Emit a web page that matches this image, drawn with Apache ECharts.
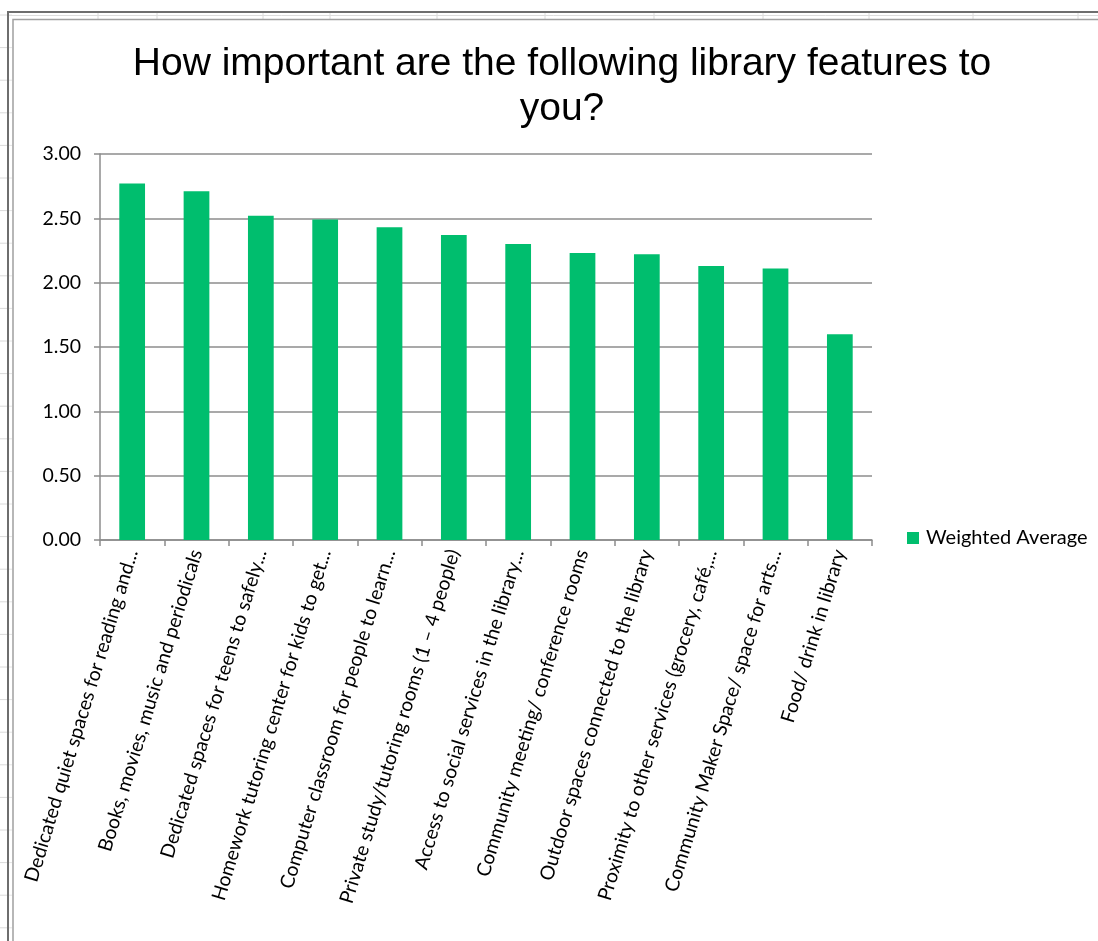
<!DOCTYPE html>
<html>
<head>
<meta charset="utf-8">
<script src="https://cdn.jsdelivr.net/npm/echarts@6/dist/echarts.min.js"></script>
<style>
  html, body { margin: 0; padding: 0; background: #ffffff; }
  #chart { width: 1098px; height: 941px; }
</style>
</head>
<body>
<div id="chart"></div>
<script>
// Survey results: weighted average importance of each library feature
const titleText = 'How important are the following library features to\nyou?';
const seriesName = 'Weighted Average';
const categories = [
  'Dedicated quiet spaces for reading and...',
  'Books, movies, music and periodicals',
  'Dedicated spaces for teens to safely...',
  'Homework tutoring center for kids to get...',
  'Computer classroom for people to learn...',
  'Private study/tutoring rooms (1 \u2013 4 people)',
  'Access to social services in the library...',
  'Community meeting/ conference rooms',
  'Outdoor spaces connected to the library',
  'Proximity to other services (grocery, caf\u00e9,...',
  'Community Maker Space/ space for arts...',
  'Food/ drink in library'
];
const weightedAverage = [2.77, 2.71, 2.52, 2.49, 2.43, 2.37, 2.30, 2.23, 2.22, 2.13, 2.11, 1.60];
const yTicks = { min: 0, max: 3, interval: 0.5 };

// Worksheet backdrop around the chart object: cell grid lines and frame
const rowLines = [];
for (let k = 0; k < 29; k++) rowLines.push(15 + 32.6 * k);
const colLines = [98, 157, 263, 330, 437, 545, 654, 763, 869, 973, 1078];

const backdrop = [];
rowLines.forEach(y => {
  backdrop.push({ type: 'line', shape: { x1: 0, y1: y, x2: 7, y2: y }, style: { stroke: '#dadada', lineWidth: 1 }, silent: true });
  backdrop.push({ type: 'line', shape: { x1: 9, y1: y, x2: 12, y2: y }, style: { stroke: '#e4e4e4', lineWidth: 1 }, silent: true });
});
colLines.forEach(x => {
  backdrop.push({ type: 'line', shape: { x1: x, y1: 13, x2: x, y2: 19 }, style: { stroke: '#dadada', lineWidth: 1 }, silent: true });
});
backdrop.push({ type: 'line', shape: { x1: 9, y1: 15.5, x2: 1098, y2: 15.5 }, style: { stroke: '#dcdcdc', lineWidth: 1 }, silent: true });
// outer dark frame
backdrop.push({ type: 'polyline', shape: { points: [[8, 941], [8, 12], [1098, 12]] }, style: { stroke: '#6e6e6e', lineWidth: 2, fill: null }, silent: true });
// chart area border
backdrop.push({ type: 'polyline', shape: { points: [[13, 941], [13, 19.5], [1098, 19.5]] }, style: { stroke: '#a0a0a0', lineWidth: 1.5, fill: null }, silent: true });

const labelFont = 'Lato, "Open Sans", sans-serif';

const chart = echarts.init(document.getElementById('chart'), null, { renderer: 'canvas' });
chart.setOption({
  backgroundColor: '#ffffff',
  animation: false,
  title: {
    text: titleText,
    left: 557,
    top: 37,
    textAlign: 'center',
    textStyle: {
      fontFamily: '"Liberation Sans", Arial, sans-serif',
      fontSize: 39,
      fontWeight: 'normal',
      color: '#000000',
      lineHeight: 45
    }
  },
  legend: {
    data: [seriesName],
    left: 902,
    top: 523,
    orient: 'vertical',
    icon: 'rect',
    itemWidth: 12,
    itemHeight: 12,
    itemGap: 6,
    textStyle: {
      fontFamily: labelFont,
      fontSize: 20,
      color: '#000000',
      padding: [0, 0, 0, 2]
    }
  },
  grid: {
    left: 100,
    top: 154,
    right: 226,
    bottom: 401,
    containLabel: false
  },
  xAxis: {
    type: 'category',
    data: categories,
    boundaryGap: true,
    axisLine: { show: true, lineStyle: { color: '#8c8c8c', width: 1.5 } },
    axisTick: { show: true, alignWithLabel: false, length: 6, lineStyle: { color: '#8c8c8c', width: 1.5 } },
    axisLabel: {
      interval: 0,
      rotate: 73,
      margin: 10,
      fontFamily: labelFont,
      fontSize: 19.5,
      color: '#000000'
    },
    splitLine: { show: false }
  },
  yAxis: {
    type: 'value',
    min: yTicks.min,
    max: yTicks.max,
    interval: yTicks.interval,
    axisLine: { show: true, lineStyle: { color: '#8c8c8c', width: 1.5 } },
    axisTick: { show: true, length: 6, lineStyle: { color: '#8c8c8c', width: 1.5 } },
    axisLabel: {
      margin: 19,
      fontFamily: labelFont,
      fontSize: 19.5,
      color: '#000000',
      formatter: v => v.toFixed(2)
    },
    splitLine: { show: true, lineStyle: { color: '#8c8c8c', width: 1.5 } }
  },
  series: [{
    name: seriesName,
    type: 'bar',
    data: weightedAverage,
    barWidth: '40%',
    itemStyle: { color: '#00BE6E' }
  }],
  graphic: backdrop
});
</script>
</body>
</html>
